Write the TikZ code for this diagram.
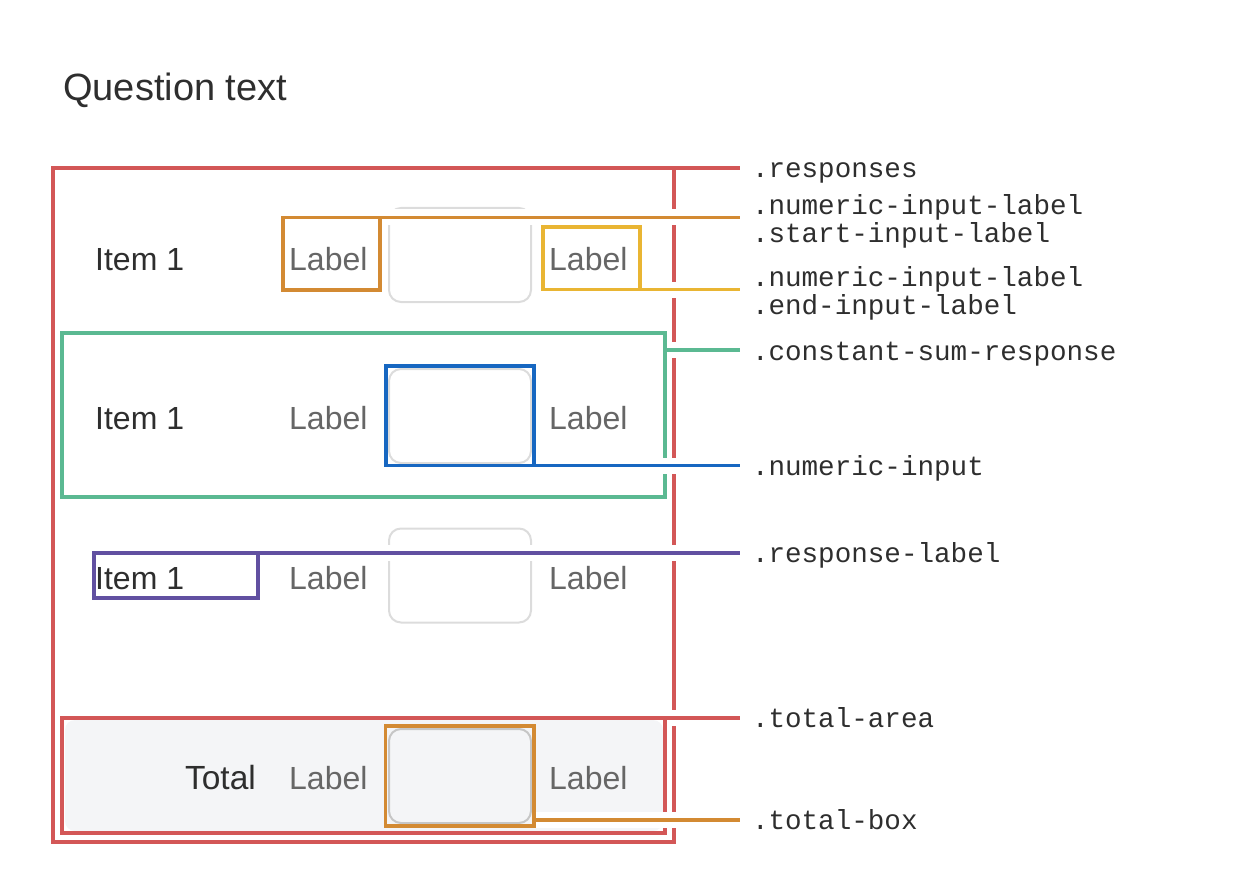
\documentclass[tikz,border=0pt]{standalone}
\usepackage{fontspec}
\setmainfont{Liberation Sans}
\setmonofont{Liberation Mono}
\usepackage{tikz}
\usetikzlibrary{calc, positioning}
\definecolor{respred}{HTML}{D35757}
\definecolor{startorange}{HTML}{D38A33}
\definecolor{endyellow}{HTML}{E9B533}
\definecolor{sumgreen}{HTML}{5BB992}
\definecolor{inputblue}{HTML}{1767C1}
\definecolor{labelpurple}{HTML}{6150A1}
\definecolor{inputgray}{HTML}{DCDCDC}
\definecolor{totalgray}{HTML}{F4F5F7}
\definecolor{darktext}{HTML}{2E2E2E}
\definecolor{greytext}{HTML}{666666}
\tikzset{
    boxnode/.style = {draw, rectangle, line width=3.5pt, inner sep=0pt, outer sep=0pt},
    inputnode/.style = {draw=inputgray, rectangle, rounded corners=12pt, line width=2pt,
      minimum width=142pt, minimum height=94pt, inner sep=0pt, outer sep=0pt},
    itemnode/.style = {anchor=base west, inner sep=0pt, color=darktext, font=\fontsize{32}{38}\selectfont},
    labelnode/.style = {anchor=base west, inner sep=0pt, color=greytext, font=\fontsize{32}{38}\selectfont},
    classnode/.style = {anchor=base west, inner xsep=12pt, inner ysep=0pt, outer sep=0pt, align=left,
      color=darktext, font=\ttfamily\fontsize{27.6}{28}\selectfont},
    connect/.style = {line width=3.5pt, preaction={draw=white, line width=16pt, shorten <=1.75pt}}
}

\begin{document}
\begin{tikzpicture}[x=1pt, y=-1pt]
\useasboundingbox (0,0) rectangle (1248,896);

\node [itemnode, name = question, font=\fontsize{38}{44}\selectfont] at (63,101) {Question text};

% outer box round all rows
\node [boxnode, draw=respred, name = responses, minimum width=621pt, minimum height=674pt] at (363.5,505) {};

% row 1
\node [itemnode, name = item1] at (95,270) {Item 1};
\node [labelnode, name = startlabel1] at (289,270) {Label};
\node [inputnode, name = input1] at (460,255) {};
\node [labelnode, name = endlabel1] at (549,270) {Label};
\node [boxnode, draw=startorange, name = startbox, minimum width=97pt, minimum height=72.5pt] at (331.5,253.75) {};
\node [boxnode, draw=endyellow, name = endbox, minimum width=97pt, minimum height=62.5pt] at (591.5,258.25) {};

% row 2
\node [itemnode, name = item2] at (95,429) {Item 1};
\node [labelnode, name = startlabel2] at (289,429) {Label};
\node [inputnode, name = input2] at (460,416) {};
\node [labelnode, name = endlabel2] at (549,429) {Label};
\node [boxnode, draw=sumgreen, name = sumbox, minimum width=603pt, minimum height=164pt] at (363.5,415) {};
\node [boxnode, draw=inputblue, name = numbox, minimum width=148pt, minimum height=99.5pt] at (460,415.75) {};

% row 3
\node [itemnode, name = item3] at (95,589) {Item 1};
\node [labelnode, name = startlabel3] at (289,589) {Label};
\node [inputnode, name = input3] at (460,575.5) {};
\node [labelnode, name = endlabel3] at (549,589) {Label};
\node [boxnode, draw=labelpurple, name = lblbox, minimum width=164pt, minimum height=45pt] at (176,575.5) {};

% total row
\node [rectangle, fill=totalgray, rounded corners=10pt, name = totbg, minimum width=598pt, minimum height=111pt] at (364,775.5) {};
\node [boxnode, draw=respred, name = totarea, minimum width=603pt, minimum height=115pt] at (363.5,775.5) {};
\node [itemnode, anchor=base east, name = total, font=\fontsize{33.5}{38}\selectfont] at (256,789) {Total};
\node [labelnode, name = startlabel4] at (289,789) {Label};
\node [inputnode, draw=inputgray!90!black, fill=totalgray, name = input4] at (460,776) {};
\node [labelnode, name = endlabel4] at (549,789) {Label};
\node [boxnode, draw=startorange, name = totbox, minimum width=148.5pt, minimum height=100pt] at (459.75,776) {};

% class names on the right
\node [classnode, name = restext] at (740,177.5) {.responses};
\node [classnode, name = starttext] at (740,242.5) {.numeric-input-label\\.start-input-label};
\node [classnode, name = endtext] at (740,314.5) {.numeric-input-label\\.end-input-label};
\node [classnode, name = sumtext] at (740,360) {.constant-sum-response};
\node [classnode, name = numtext] at (740,475) {.numeric-input};
\node [classnode, name = lbltext] at (740,562.5) {.response-label};
\node [classnode, name = areatext] at (740,727.5) {.total-area};
\node [classnode, name = boxtext] at (740,829.5) {.total-box};

\coordinate (sumtap) at ($(sumbox.north east)+(0,17)$);
\coordinate (boxtap) at ($(totbox.south east)+(0,-6)$);

\draw [connect, respred] (responses.north east) -- (responses.north east -| restext.west);
\draw [connect, startorange] (startbox.north east) -- (startbox.north east -| starttext.west);
\draw [connect, endyellow] (endbox.south east) -- (endbox.south east -| endtext.west);
\draw [connect, sumgreen] (sumtap) -- (sumtap -| sumtext.west);
\draw [connect, inputblue] (numbox.south east) -- (numbox.south east -| numtext.west);
\draw [connect, labelpurple] (lblbox.north east) -- (lblbox.north east -| lbltext.west);
\draw [connect, respred] (totarea.north east) -- (totarea.north east -| areatext.west);
\draw [connect, startorange] (boxtap) -- (boxtap -| boxtext.west);

\end{tikzpicture}
\end{document}
